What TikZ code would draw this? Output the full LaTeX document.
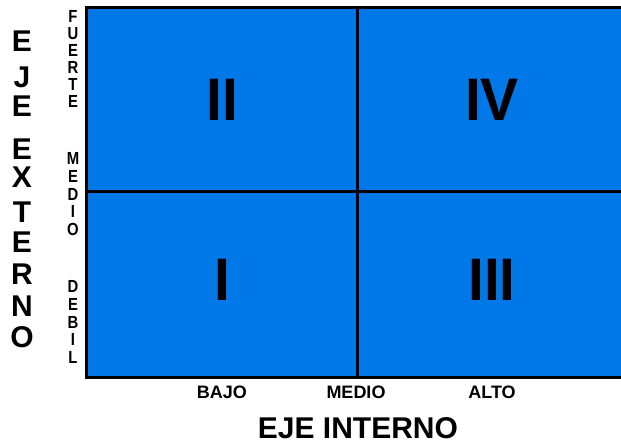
\documentclass[tikz,border=0pt]{standalone}
\usepackage{fontspec}
\setmainfont{Liberation Sans}
\definecolor{quadblue}{RGB}{0,120,232}
\begin{document}
\begin{tikzpicture}[x=1pt,y=-1pt,
  border/.style={draw=black,line width=3pt},
  num/.style={font=\bfseries\fontsize{60}{60}\selectfont,inner sep=0pt,xscale=0.95},
  big/.style={font=\bfseries\fontsize{30}{30}\selectfont,inner sep=0pt},
  small/.style={font=\bfseries\fontsize{17.5}{17.5}\selectfont,inner sep=0pt,xscale=0.85},
  axis/.style={font=\bfseries\fontsize{30}{30}\selectfont,inner sep=0pt},
  tick/.style={font=\bfseries\fontsize{18}{18}\selectfont,inner sep=0pt}]
\useasboundingbox (0,0) rectangle (621,444);
\clip (0,0) rectangle (621,444);
% quadrants
\coordinate (tl) at (86,8);
\coordinate (bl) at (86,377);
\coordinate (tr) at (640,8);
\coordinate (br) at (640,377);
\coordinate (mt) at (357,8);
\coordinate (mb) at (357,377);
\coordinate (ml) at (86,191);
\coordinate (mr) at (640,191);
\fill[quadblue] (tl) rectangle (br);
\draw[border] (tr) -- (tl) -- (bl) -- (br);
\draw[border] (mt) -- (mb);
\draw[border] (ml) -- (mr);
% numerals
\node[num] (nII) at (222,100) {II};
\node[num] (nIV) at (492,100) {IV};
\node[num] (nI) at (222,280) {I};
\node[num] (nIII) at (492,280) {III};
% vertical axis title
\foreach \l/\y [count=\i] in {E/41,J/77,E/106,E/149,X/177,T/212,E/242,R/274,N/306,O/337}
  \node[big] (ext\i) at (22,\y) {\l};
% vertical ticks
\foreach \l [count=\i] in {F,U,E,R,T,E}
  \node[small] (fu\i) at (73,{16.5+17*(\i-1)}) {\l};
\foreach \l [count=\i] in {M,E,D,I,O}
  \node[small] (me\i) at (73,{158.5+17.75*(\i-1)}) {\l};
\foreach \l [count=\i] in {D,E,B,I,L}
  \node[small] (de\i) at (73,{286.5+17.75*(\i-1)}) {\l};
% horizontal ticks
\node[tick] (bajo) at (222,392) {BAJO};
\node[tick] (medio) at (356,392) {MEDIO};
\node[tick] (alto) at (492,392) {ALTO};
\node[axis] (interno) at (358,428.5) {EJE INTERNO};
\end{tikzpicture}
\end{document}
